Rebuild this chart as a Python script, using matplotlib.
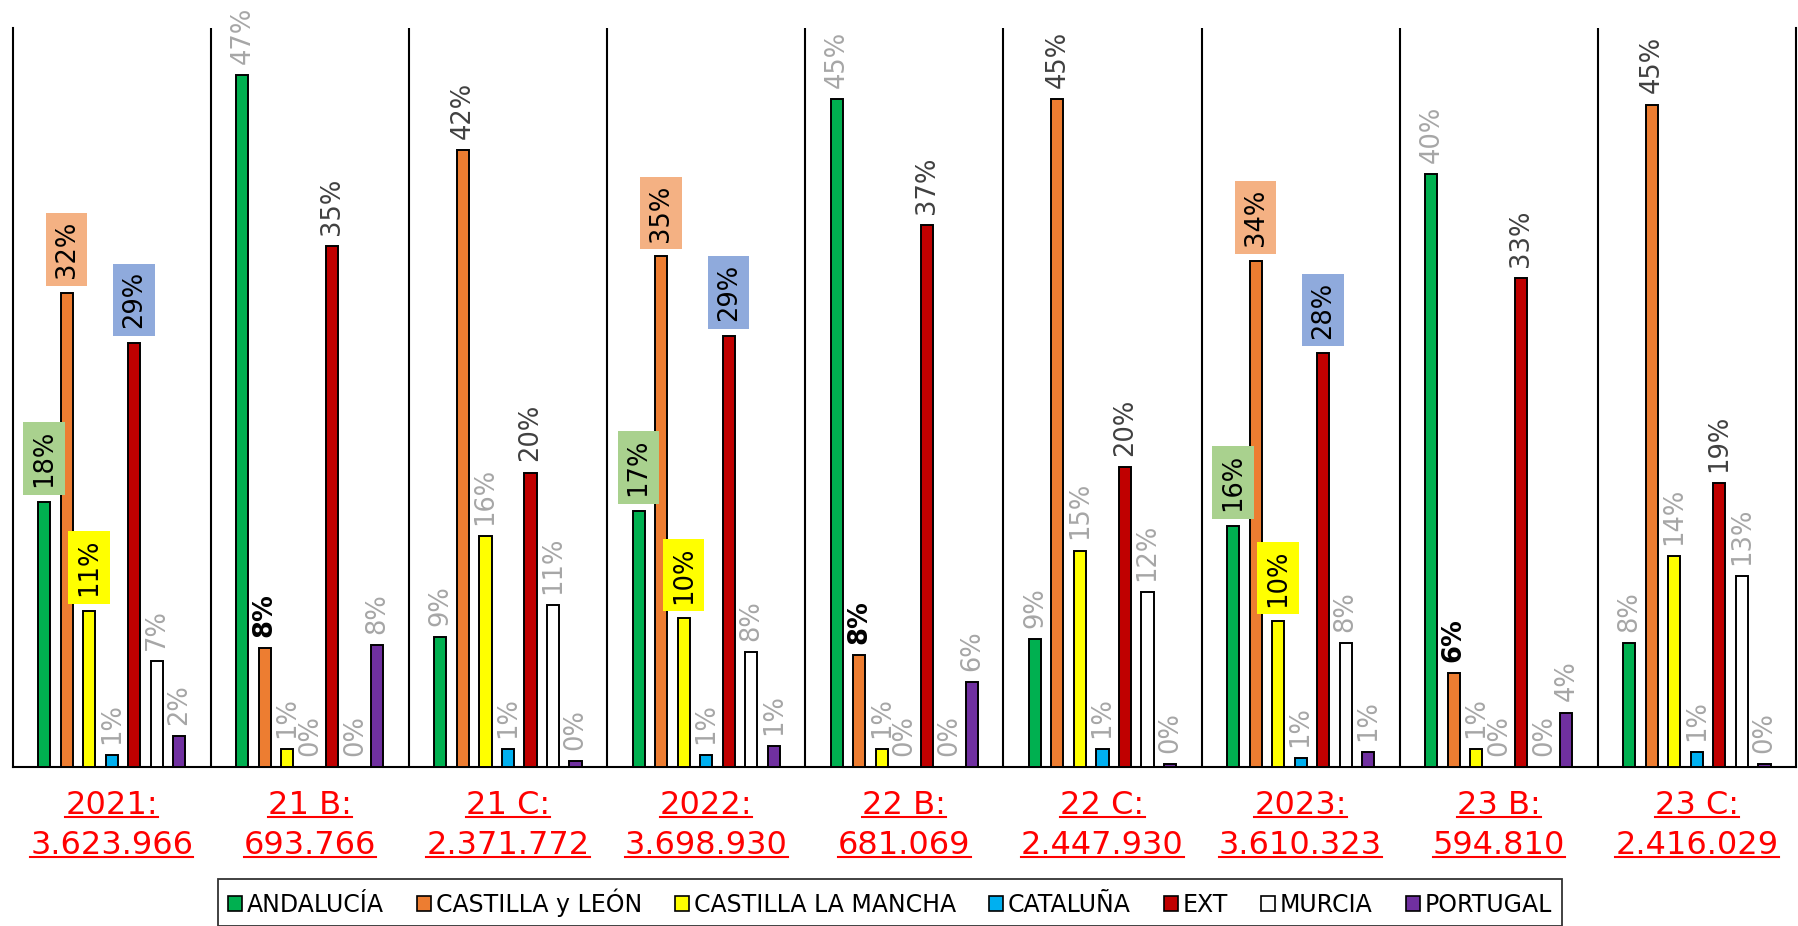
import numpy as np
import matplotlib
matplotlib.use("Agg")
import matplotlib.pyplot as plt
from matplotlib.lines import Line2D
from matplotlib.transforms import IdentityTransform

plt.rcParams['font.family'] = ['DejaVu Sans']

# categories (group name + total)
groups = ["2021:", "21 B:", "21 C:", "2022:", "22 B:", "22 C:", "2023:", "23 B:", "23 C:"]
totals = ["3.623.966", "693.766", "2.371.772", "3.698.930", "681.069",
          "2.447.930", "3.610.323", "594.810", "2.416.029"]

series = ["ANDALUCÍA", "CASTILLA y LEÓN", "CASTILLA LA MANCHA", "CATALUÑA",
          "EXT", "MURCIA", "PORTUGAL"]

# shares in %
andalucia = [18.0, 47.0, 8.8, 17.4, 45.4, 8.7, 16.4, 40.3, 8.4]
castilla_leon = [32.2, 8.1, 41.9, 34.7, 7.6, 45.4, 34.4, 6.4, 45.0]
castilla_mancha = [10.6, 1.2, 15.7, 10.1, 1.2, 14.7, 9.9, 1.2, 14.3]
cataluna = [0.8, 0.0, 1.2, 0.8, 0.0, 1.2, 0.6, 0.0, 1.0]
ext = [28.8, 35.4, 20.0, 29.3, 36.8, 20.4, 28.1, 33.2, 19.3]
murcia = [7.2, 0.0, 11.0, 7.8, 0.0, 11.9, 8.4, 0.0, 13.0]
portugal = [2.1, 8.3, 0.4, 1.4, 5.8, 0.2, 1.0, 3.7, 0.2]

values = [andalucia, castilla_leon, castilla_mancha, cataluna, ext, murcia, portugal]
colors = ["#00b050", "#ed7d31", "#ffff00", "#00b0f0", "#c00000", "#ffffff", "#7030a0"]
box_colors = {0: "#a9d18e", 1: "#f4b183", 2: "#ffff00", 4: "#8faadc"}

GRAY = "#a6a6a6"
DARK = "#404040"

fig = plt.figure(figsize=(17.98, 9.26), dpi=100)
ax = fig.add_axes([0.0070, 0.1717, 0.9919, 0.7981])

x = np.arange(len(groups))
slot = 0.1136
width = 0.061

for j, (name, vals) in enumerate(zip(series, values)):
    pos = x + (j - 3) * slot
    ax.bar(pos, vals, width, color=colors[j], edgecolor="black",
           linewidth=1.4, label=name, zorder=3)
    for g, (px, v) in enumerate(zip(pos, vals)):
        lbl = f"{v:.0f}%"
        kind = g % 3
        kw = dict(rotation=90, ha="center", va="bottom", fontsize=18.5,
                  textcoords="offset points", annotation_clip=False, zorder=4)
        if kind == 0 and j in box_colors:
            ax.annotate(lbl, xy=(px, v), xytext=(0, 10.5), color="black",
                        bbox=dict(boxstyle="square,pad=0.3", fc=box_colors[j], ec="none"),
                        **kw)
        elif kind == 1 and j == 1:
            ax.annotate(lbl, xy=(px, v), xytext=(0, 8), color="black",
                        fontweight="semibold", **kw)
        elif (kind == 1 and j == 4) or (kind == 2 and j in (1, 4)):
            ax.annotate(lbl, xy=(px, v), xytext=(0, 8), color=DARK, **kw)
        else:
            ax.annotate(lbl, xy=(px, v), xytext=(0, 8), color=GRAY, **kw)

# group separators
for b in np.arange(0.5, len(groups) - 0.5, 1):
    ax.axvline(b, color="black", lw=1.5, zorder=1)

ax.set_xlim(-0.5, len(groups) - 0.5)
ax.set_ylim(0, 50.2)
ax.set_xticks([])
ax.set_yticks([])
ax.spines["top"].set_visible(False)
for s in ("left", "right", "bottom"):
    ax.spines[s].set_linewidth(1.5)
    ax.spines[s].set_color("black")

# red underlined category labels
cat_texts = []
for i, (gname, tot) in enumerate(zip(groups, totals)):
    for txt, off in ((gname, -38), (tot, -78)):
        t = ax.annotate(txt, xy=(i, 0), xycoords=ax.get_xaxis_transform(),
                        xytext=(0, off), textcoords="offset pixels",
                        ha="center", va="center", fontsize=23, color="#ff0000",
                        annotation_clip=False)
        cat_texts.append(t)

leg = fig.legend(loc="center", bbox_to_anchor=(0.495, 0.0254), ncol=7,
                 fontsize=17, frameon=True, fancybox=False, edgecolor="black",
                 handlelength=0.6, handleheight=0.6, handletextpad=0.2,
                 columnspacing=1.4, borderpad=0.4)
leg.get_frame().set_linewidth(1.3)
for h in leg.legend_handles:
    h.set_edgecolor("black")
    h.set_linewidth(1.2)

fig.canvas.draw()
r = fig.canvas.get_renderer()
for t in cat_texts:
    bb = t.get_window_extent(r)
    y = bb.y0 + 4
    fig.add_artist(Line2D([bb.x0, bb.x1], [y, y], transform=IdentityTransform(),
                          color="#ff0000", lw=1.5))

fig.savefig("out.png", dpi=100, facecolor="white")
